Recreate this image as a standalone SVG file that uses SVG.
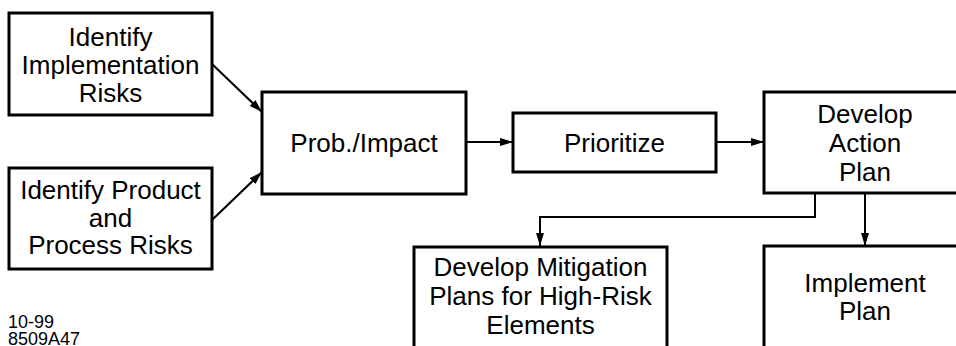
<svg xmlns="http://www.w3.org/2000/svg" width="956" height="346" viewBox="0 0 956 346">
  <style>
    .box { fill: #ffffff; stroke: #000000; stroke-width: 3; }
    .lbl { font-family: "Liberation Sans", Arial, Helvetica, sans-serif; font-size: 26px; fill: #000000; text-anchor: middle; }
    .note { font-family: "Liberation Sans", Arial, Helvetica, sans-serif; font-size: 18px; fill: #000000; }
    .wire { fill: none; stroke: #000000; stroke-width: 2; marker-end: url(#head); }
  </style>
  <defs>
    <marker id="head" markerUnits="userSpaceOnUse" markerWidth="14" markerHeight="9" refX="13" refY="4" orient="auto">
      <path d="M0,0 L13,4 L0,8 Z" fill="#000000"/>
    </marker>
  </defs>
  <rect width="956" height="346" fill="#ffffff"/>

  <g id="connectors">
    <path class="wire" d="M212,64 L262,112"/>
    <path class="wire" d="M212,220 L262,172"/>
    <path class="wire" d="M466,142 L513,142"/>
    <path class="wire" d="M716,142 L764,142"/>
    <path class="wire" d="M815,194 V217 H540 V246"/>
    <path class="wire" d="M865,194 V246"/>
  </g>

  <g id="identify-implementation">
    <rect class="box" x="9" y="13" width="203" height="102"/>
    <text class="lbl" x="110.5" y="46">Identify</text>
    <text class="lbl" x="110.5" y="74">Implementation</text>
    <text class="lbl" x="110.5" y="102">Risks</text>
  </g>

  <g id="identify-product">
    <rect class="box" x="9" y="168" width="203" height="101"/>
    <text class="lbl" x="110.5" y="199">Identify Product</text>
    <text class="lbl" x="110.5" y="227">and</text>
    <text class="lbl" x="110.5" y="254">Process Risks</text>
  </g>

  <g id="prob-impact">
    <rect class="box" x="262" y="92" width="204" height="102"/>
    <text class="lbl" x="364" y="152">Prob./Impact</text>
  </g>

  <g id="prioritize">
    <rect class="box" x="513" y="113" width="203" height="59"/>
    <text class="lbl" x="614.5" y="152">Prioritize</text>
  </g>

  <g id="action-plan">
    <rect class="box" x="764" y="92" width="202" height="101"/>
    <text class="lbl" x="865" y="123">Develop</text>
    <text class="lbl" x="865" y="152">Action</text>
    <text class="lbl" x="865" y="181">Plan</text>
  </g>

  <g id="mitigation-plans">
    <rect class="box" x="414" y="247" width="253" height="110"/>
    <text class="lbl" x="540.5" y="276">Develop Mitigation</text>
    <text class="lbl" x="540.5" y="305">Plans for High-Risk</text>
    <text class="lbl" x="540.5" y="334">Elements</text>
  </g>

  <g id="implement-plan">
    <rect class="box" x="764" y="246" width="202" height="110"/>
    <text class="lbl" x="865" y="292">Implement</text>
    <text class="lbl" x="865" y="320">Plan</text>
  </g>

  <g id="figure-code">
    <text class="note" x="8" y="328">10-99</text>
    <text class="note" x="8" y="345">8509A47</text>
  </g>
</svg>
